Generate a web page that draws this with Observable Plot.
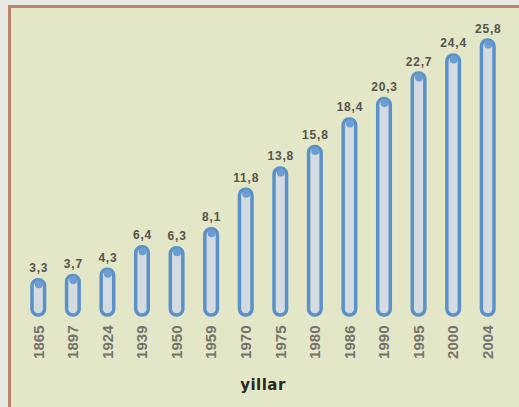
<!DOCTYPE html>
<html>
<head>
<meta charset="utf-8">
<script src="https://cdn.jsdelivr.net/npm/d3@7"></script>
<script src="https://cdn.jsdelivr.net/npm/@observablehq/plot@0.6"></script>
<style>
  html, body { margin: 0; padding: 0; background: #e7e7e3; }
  #wrap { position: relative; width: 519px; height: 407px; overflow: hidden; }
  #panel { position: absolute; left: 8px; top: 5px; right: 0; bottom: 0;
           background: #e3e7c7; border-left: 3px solid #b9846a; border-top: 3px solid #b9846a; }
  #chart { position: absolute; left: 0; top: 0; }
  #chart svg g[aria-label="text"] text { letter-spacing: 0.8px; }
  #xlabel { position: absolute; left: 0; width: 526px; top: 376px; text-align: center;
            font: bold 15px "DejaVu Sans", sans-serif; color: #2a2622; letter-spacing: 0.5px; }
</style>
</head>
<body>
<div id="wrap">
  <div id="panel"></div>
  <div id="chart"></div>
  <div id="xlabel">yillar</div>
</div>
<script>
const years = ["1865","1897","1924","1939","1950","1959","1970","1975","1980","1986","1990","1995","2000","2004"];
const values = [3.3, 3.7, 4.3, 6.4, 6.3, 8.1, 11.8, 13.8, 15.8, 18.4, 20.3, 22.7, 24.4, 25.8];
const labels = ["3,3","3,7","4,3","6,4","6,3","8,1","11,8","13,8","15,8","18,4","20,3","22,7","24,4","25,8"];

const data = years.map((y, i) => ({year: y, value: values[i], label: labels[i]}));

const plot = Plot.plot({
  width: 519,
  height: 407,
  marginLeft: 21,
  marginRight: 14,
  marginTop: 40,
  marginBottom: 92,
  style: { background: "transparent", overflow: "visible" },
  x: { domain: years, padding: 0, round: false, label: null },
  y: { domain: [0, 25.8], axis: null },
  marks: [
    Plot.barY(data, {
      x: "year", y: "value",
      insetLeft: 11, insetRight: 11,
      fill: "#d4dbe0", stroke: "#5b91c9", strokeWidth: 3.5, rx: 6
    }),
    Plot.dot(data, {x: "year", y: "value", dy: 4, r: 4, fill: "#6b9dd2", stroke: "none"}),
    Plot.text(data, {
      x: "year", y: "value", text: "label", dy: -8, lineAnchor: "bottom",
      fontSize: 12, fontWeight: "bold", fill: "#55534d",
      fontFamily: "Liberation Sans"
    }),
    Plot.axisX({
      tickSize: 0, tickPadding: 10, tickRotate: -90,
      fontSize: 15, fontWeight: "bold", fill: "#74726d",
      fontFamily: "Liberation Sans", label: null
    })
  ]
});
document.getElementById("chart").appendChild(plot);
</script>
</body>
</html>
